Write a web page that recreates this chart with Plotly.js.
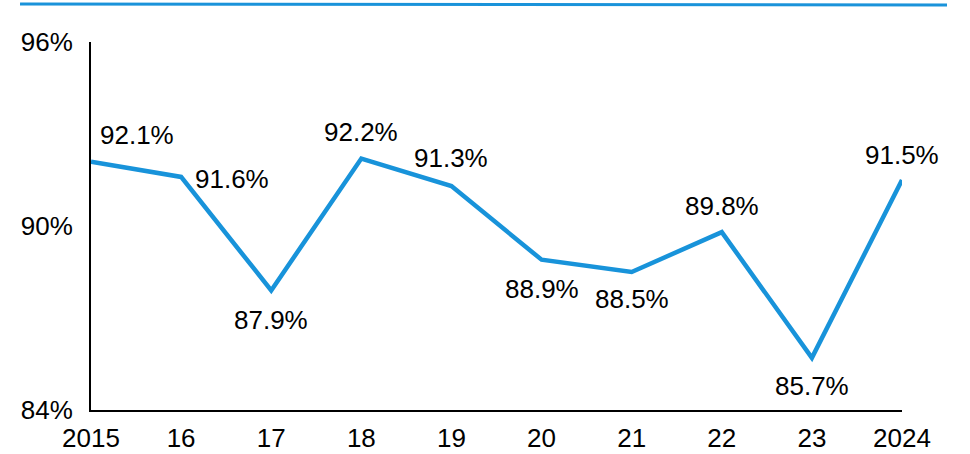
<!DOCTYPE html>
<html>
<head>
<meta charset="utf-8">
<script src="https://cdn.plot.ly/plotly-3.0.1.min.js"></script>
<style>html,body{margin:0;padding:0;background:#fff;}#chart{width:970px;height:454px;}</style>
</head>
<body>
<div id="chart"></div>
<script>
const categories = ['2015','16','17','18','19','20','21','22','23','2024'];
const values = [92.1, 91.6, 87.9, 92.2, 91.3, 88.9, 88.5, 89.8, 85.7, 91.5];
const labels = ['92.1%','91.6%','87.9%','92.2%','91.3%','88.9%','88.5%','89.8%','85.7%','91.5%'];
const yTicks = [84, 90, 96];

// label offsets (style)
const dxs = [46, 51, 0, 0, 0, 0, 0, 0, 0, 0];
const dys = [27, -2, -30, 27, 28, -29, -27, 26, -28, 25];

const FONT = 'Liberation Sans, Arial, sans-serif';
const BLUE = '#1893da';

// category axes place annotations by category index
const annotations = categories.map((c, i) => ({
  x: i, y: values[i], xref: 'x', yref: 'y',
  text: labels[i], showarrow: false,
  xshift: dxs[i], yshift: dys[i],
  font: {family: FONT, size: 26, color: '#000'}
}));

const trace = {
  x: categories, y: values, type: 'scatter', mode: 'lines',
  line: {color: BLUE, width: 4.5}, hoverinfo: 'skip', cliponaxis: false
};

const layout = {
  width: 970, height: 454,
  margin: {l: 91, r: 68, t: 42, b: 44},
  paper_bgcolor: '#fff', plot_bgcolor: '#fff',
  showlegend: false,
  font: {family: FONT, size: 26, color: '#000'},
  xaxis: {
    type: 'category', range: [0, 9], showgrid: false, zeroline: false,
    showline: true, linecolor: '#000', linewidth: 2, ticks: '',
    tickfont: {family: FONT, size: 26, color: '#000'},
    ticklabelstandoff: 4
  },
  yaxis: {
    range: [84, 96], tickvals: yTicks, ticktext: yTicks.map(v => v + '%'),
    showgrid: false, zeroline: false, showline: true, linecolor: '#000', linewidth: 2,
    ticks: '', tickfont: {family: FONT, size: 26, color: '#000'},
    ticklabelstandoff: 11
  },
  annotations: annotations,
  shapes: [{
    type: 'line', xref: 'paper', yref: 'paper',
    x0: -0.0875, x1: 1.0555, y0: 1.1035, y1: 1.1005,
    line: {color: '#1a93da', width: 3}
  }]
};

Plotly.newPlot('chart', [trace], layout, {staticPlot: true, displayModeBar: false});
</script>
</body>
</html>
